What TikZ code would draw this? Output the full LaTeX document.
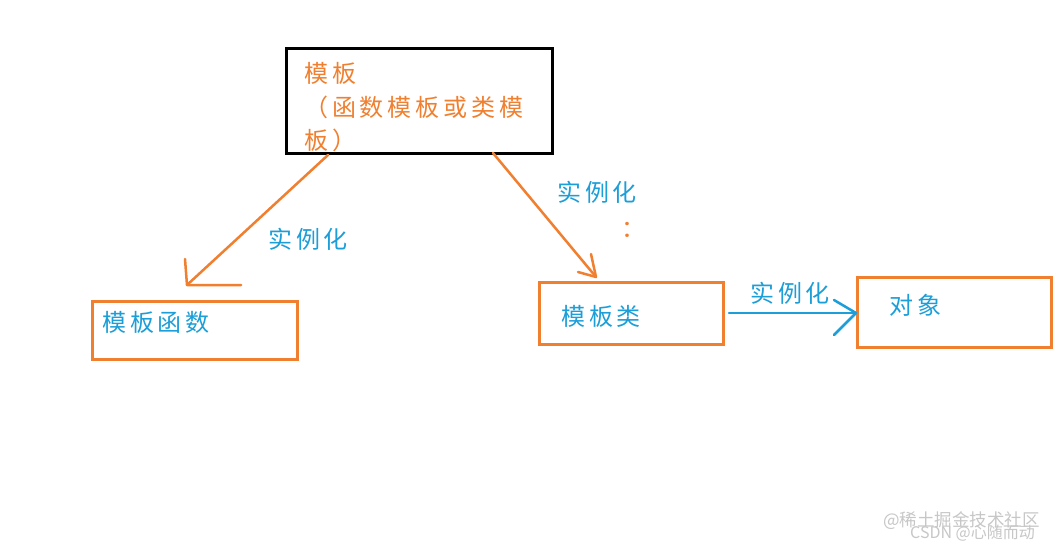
\documentclass[tikz,border=0pt]{standalone}
\usepackage{fontspec}
\setmainfont{Noto Sans CJK SC}
\newfontfamily\cjkwide[LetterSpace=16]{Noto Sans CJK SC}
\begin{document}
\begin{tikzpicture}[x=1pt,y=-1pt,
  obox/.style={draw=orgc,line width=3pt,inner sep=0pt,anchor=north west},
  cjk/.style={inner sep=0pt,anchor=west,font=\cjkwide\fontsize{24}{34}\selectfont},
  olab/.style={cjk,text=orgc},
  blab/.style={cjk,text=bluc},
  oarr/.style={draw=orgc,line width=2.5pt,line cap=round,line join=round},
  barr/.style={draw=bluc,line width=2.5pt,line cap=round,line join=round},
  wm/.style={inner sep=0pt,anchor=west,text=black!22}]
\definecolor{orgc}{RGB}{240,128,48}
\definecolor{bluc}{RGB}{28,158,216}
\useasboundingbox[fill=white] (0,0) rectangle (1061,551);
% boxes
\node[draw=black,line width=3pt,inner sep=0pt,anchor=north west,minimum width=266pt,minimum height=105pt] (top) at (285,47) {};
\node[obox,minimum width=205pt,minimum height=58pt] (func) at (91,300) {};
\node[obox,minimum width=184pt,minimum height=62pt] (cls) at (538,281) {};
\node[obox,minimum width=194pt,minimum height=70pt] (obj) at (856,276) {};
% texts
\node[olab] (t1) at (304,73) {模板};
\node[olab] (t2) at (304,107) {（函数模板或类模};
\node[olab] (t3) at (304,140) {板）};
\node[blab] (tf) at (102,322) {模板函数};
\node[blab] (tc) at (561,316) {模板类};
\node[blab] (to) at (889,305) {对象};
% arrow 1
\coordinate (a1s) at (328,155);
\coordinate (a1e) at (187,285);
\coordinate (a1h1) at (185,259);
\coordinate (a1h2) at (241,285);
\draw[oarr] (a1s) -- (a1e);
\draw[oarr] (a1h1) -- (a1e) -- (a1h2);
\node[blab] (l1) at (268,239) {实例化};
% arrow 2
\coordinate (a2s) at (493,153);
\coordinate (a2e) at (596,277);
\coordinate (a2h1) at (591,254);
\coordinate (a2h2) at (578,272);
\draw[oarr] (a2s) -- (a2e);
\draw[oarr] (a2h1) -- (a2e) -- (a2h2);
\node[blab] (l2) at (557,192) {实例化};
\node[olab] (l2c) at (621,230) {：};
% arrow 3
\coordinate (a3s) at (729,313);
\coordinate (a3e) at (856,313);
\coordinate (a3h1) at (834,300);
\coordinate (a3h2) at (834,335);
\draw[barr] (a3s) -- (a3e);
\draw[barr] (a3h1) -- (a3e) -- (a3h2);
\node[blab] (l3) at (750,293) {实例化};
% watermarks
\node[wm,font=\fontsize{17.5}{17.5}\selectfont] (w1) at (883,521) {@稀土掘金技术社区};
\node[wm,font=\fontsize{16}{16}\selectfont] (w2) at (910,533) {CSDN @心随而动};
\end{tikzpicture}
\end{document}
